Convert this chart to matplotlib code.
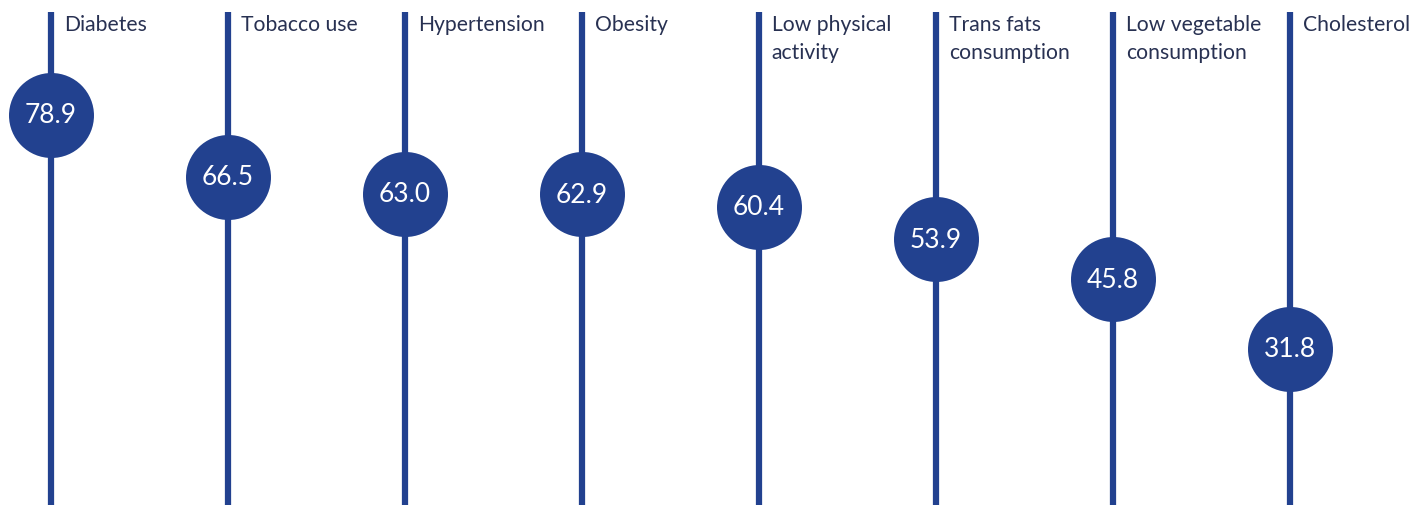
import matplotlib.pyplot as plt

# risk factors and prevalence values (%)
labels = ["Diabetes", "Tobacco use", "Hypertension", "Obesity",
          "Low physical\nactivity", "Trans fats\nconsumption",
          "Low vegetable\nconsumption", "Cholesterol"]
values = [78.9, 66.5, 63.0, 62.9, 60.4, 53.9, 45.8, 31.8]

blue = '#22418f'
text_col = '#283152'
plt.rcParams['font.family'] = ['Lato', 'DejaVu Sans']

fig = plt.figure(figsize=(14.22, 5.06), dpi=100)
ax = fig.add_axes([0, 0, 1, 1])
ax.set_xlim(-0.288, 7.746)
ax.set_ylim(0.35, 102.25)
ax.axis('off')

xs = list(range(len(values)))
ax.vlines(xs, 0, 99.7, color=blue, lw=4.5, zorder=1)
ax.scatter(xs, values, s=3745, color=blue, zorder=2, linewidths=0)

for x, v, lab in zip(xs, values, labels):
    ax.text(x, v, f"{v:.1f}", color='white', fontsize=19,
            ha='center', va='center', zorder=3)
    ax.text(x + 0.072, 99.3, lab, color=text_col, fontsize=15.2,
            ha='left', va='top', linespacing=1.55)

fig.savefig('out.png', dpi=100)
